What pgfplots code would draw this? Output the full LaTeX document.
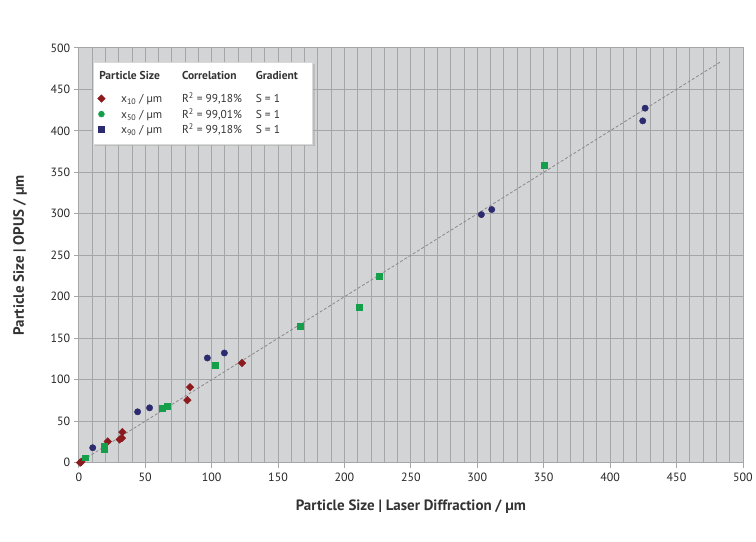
\documentclass[border=0pt]{standalone}
\usepackage{fontspec}
\setmainfont{PT Sans}
\usepackage{pgfplots}
\pgfplotsset{compat=1.18}
\usetikzlibrary{shadows}
\definecolor{bg}{HTML}{D3D4D6}
\definecolor{gridc}{HTML}{A5A6A8}
\definecolor{dred}{HTML}{8B1B1E}
\definecolor{dgreen}{HTML}{159F4A}
\definecolor{navy}{HTML}{2C2B6F}
\definecolor{dashc}{HTML}{8A8A8C}
\newcommand{\lrow}[3]{\hspace*{14pt}\makebox[61pt][l]{#1}\makebox[74pt][l]{#2}\makebox[55pt][l]{#3}}
\begin{document}
\begin{tikzpicture}
\begin{axis}[
 name=ax,
 scale only axis, width=666pt, height=416pt,
 xmin=0,xmax=500,ymin=0,ymax=500,
 xtick={0,50,...,500}, ytick={0,50,...,500},
 minor xtick={10,20,...,490},
 grid=both,
 major grid style={gridc, line width=0.8pt},
 minor grid style={gridc, line width=0.8pt},
 axis background/.style={fill=bg},
 axis line style={gridc, line width=0.8pt},
 xtick pos=bottom, ytick pos=left, tick align=outside,
 major tick length=5pt, minor tick length=0pt,
 tick style={gridc, line width=0.8pt},
 ticklabel style={font=\fontsize{12}{14}\selectfont, color=black!85},
 xticklabel style={yshift=-2pt},
 /pgf/number format/assume math mode=true,
 xlabel={Particle Size | Laser Diffraction / µm},
 ylabel={Particle Size | OPUS / µm},
 label style={font=\fontsize{15}{17}\selectfont\bfseries, color=black!80},
 xlabel style={at={([yshift=-44pt]rel axis cs:0.5,0)}, anchor=center},
 ylabel style={at={([xshift=-59pt]rel axis cs:0,0.5)}, anchor=center, rotate=0},
 legend style={at={(rel axis cs:0.021,0.966)}, anchor=north west, fill=white, draw=gray!30,
   drop shadow={shadow xshift=2pt,shadow yshift=-2pt,fill=black!35},
   font=\fontsize{11.5}{13}\selectfont, inner xsep=0pt, inner ysep=7pt, row sep=0pt,
   cells={anchor=west}, text=black!80},
]
\addlegendimage{empty legend}
\addlegendentry{\hspace*{-8pt}\raisebox{8pt}{\bfseries\makebox[83pt][l]{Particle Size}\makebox[74pt][l]{Correlation}\makebox[55pt][l]{Gradient}}}
\addlegendimage{only marks, mark=square*, mark options={rotate=45}, color=dred, mark size=2.7pt}
\addlegendentry{\lrow{x\textsubscript{10} / µm}{R\textsuperscript{2} = 99,18\%}{S = 1}}
\addlegendimage{only marks, mark=*, color=dgreen, mark size=3pt}
\addlegendentry{\lrow{x\textsubscript{50} / µm}{R\textsuperscript{2} = 99,01\%}{S = 1}}
\addlegendimage{only marks, mark=square*, color=navy, mark size=3pt}
\addlegendentry{\lrow{x\textsubscript{90} / µm}{R\textsuperscript{2} = 99,18\%}{S = 1}}

\addplot[forget plot, dashc, line width=0.8pt, dash pattern=on 3pt off 2pt] coordinates {(0,0) (483,483)};

\addplot[forget plot, only marks, mark=square*, mark options={rotate=45}, color=dred, mark size=2.7pt] coordinates {
(1,0) (2,1) (21.8,25.6) (30.8,28) (32.5,29.7) (32.8,36.9) (81.8,75.4) (83.8,91) (122.9,120.2)};
\addplot[forget plot, only marks, mark=square*, color=dgreen, mark size=3pt] coordinates {
(5,6) (19.5,16.5) (19.5,19.5) (62.5,66.1) (66.3,67.7) (102.9,117.8) (166.4,164.7) (211.2,187.9) (226.5,225.1) (350.2,358.4)};
\addplot[forget plot, only marks, mark=*, color=navy, mark size=3.2pt] coordinates {
(10.5,18) (44.3,61.3) (53.3,66.1) (96.8,126.2) (109.6,132.2) (303.1,299) (310.9,305.1) (424.6,412) (426.4,427.3)};
\end{axis}
\path ([shift={(-79pt,-79pt)}]ax.south west) rectangle ([shift={(11pt,48pt)}]ax.north east);
\end{tikzpicture}
\end{document}
